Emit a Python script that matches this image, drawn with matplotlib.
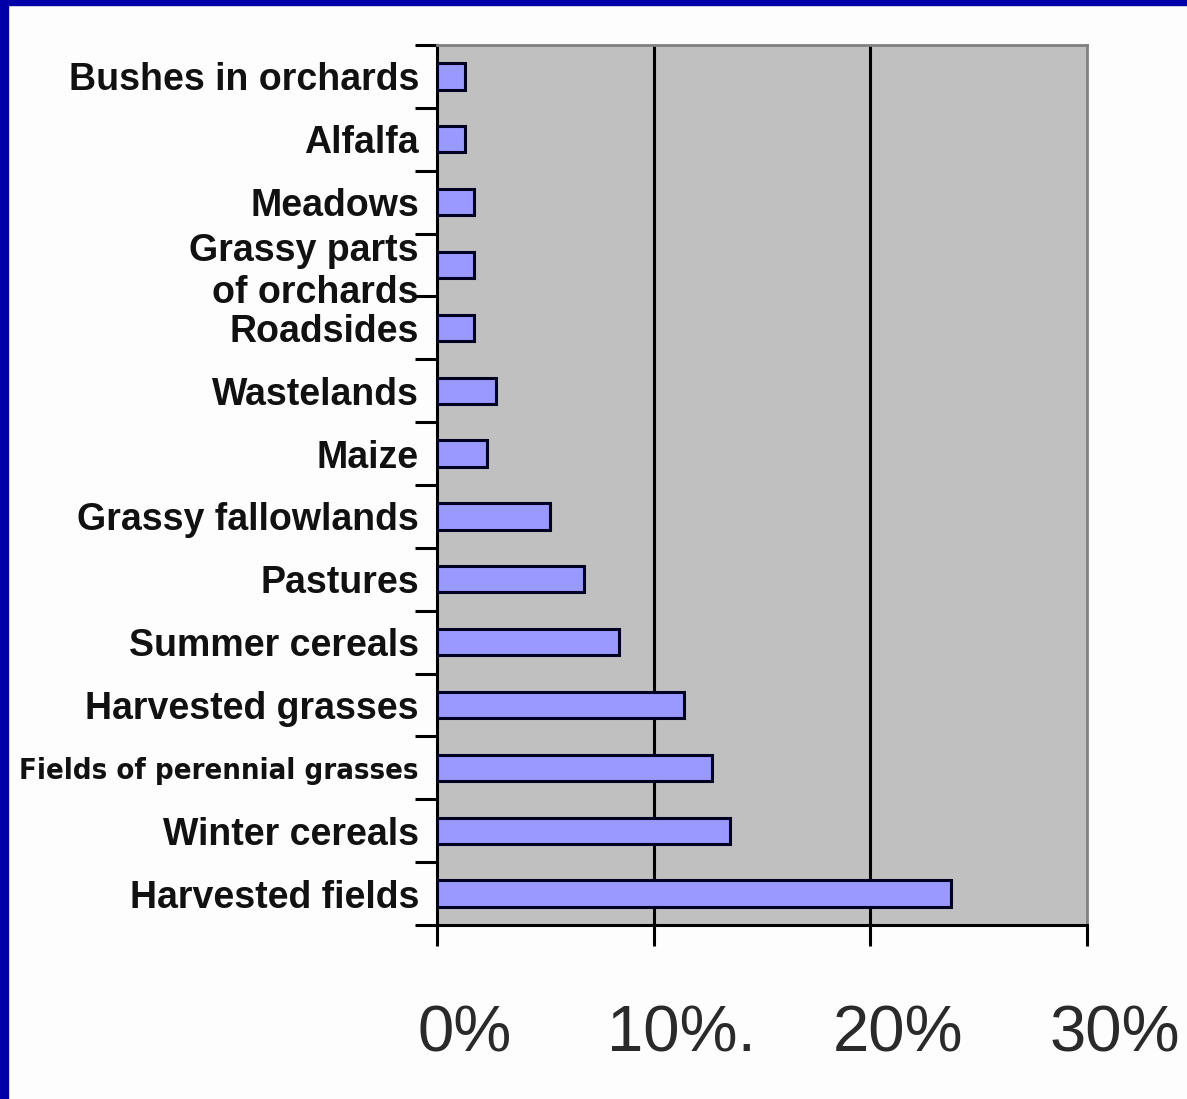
import matplotlib
matplotlib.use("Agg")
import matplotlib.pyplot as plt
import matplotlib.transforms as mtransforms
from matplotlib.patches import Rectangle
from matplotlib.ticker import FixedLocator

# Share of sites per habitat type (%)
habitats = [
    "Bushes in orchards",
    "Alfalfa",
    "Meadows",
    "Grassy parts\nof orchards",
    "Roadsides",
    "Wastelands",
    "Maize",
    "Grassy fallowlands",
    "Pastures",
    "Summer cereals",
    "Harvested grasses",
    "Fields of perennial grasses",
    "Winter cereals",
    "Harvested fields",
]
shares = [1.3, 1.3, 1.7, 1.7, 1.7, 2.7, 2.3, 5.2, 6.8, 8.4, 11.4, 12.7, 13.5, 23.7]
x_ticks = [0, 10, 20, 30]
x_tick_labels = ["0%", "10%.", "20%", "30%"]

W, H = 1187, 1099
fig = plt.figure(figsize=(W / 100, H / 100), dpi=100)
fig.patch.set_facecolor("#fdfdfd")

# Slide frame along the left and top edges
frame = "#0000a8"
fig.patches.append(Rectangle((0, 0), 8 / W, 1, transform=fig.transFigure,
                             color=frame, zorder=0))
fig.patches.append(Rectangle((0, 1 - 5 / H), 1, 5 / H, transform=fig.transFigure,
                             color=frame, zorder=0))

ax = fig.add_axes([437 / W, 1 - 925 / H, (1087 - 437) / W, (925 - 45) / H])
ax.set_facecolor("#c0c0c0")

ypos = list(range(len(habitats)))
ax.barh(ypos, shares, height=0.42, color="#9999ff", edgecolor="#000022",
        linewidth=2.2, zorder=3)

ax.set_xlim(0, 30)
ax.set_ylim(len(habitats) - 0.5, -0.5)

# Vertical gridlines at the inner x ticks
for xv in x_ticks[1:-1]:
    ax.axvline(xv, color="black", linewidth=2.2, zorder=2)

# Category labels on the y axis, boundary ticks between categories
ax.yaxis.set_major_locator(FixedLocator(ypos))
ax.set_yticklabels(habitats)
ax.yaxis.set_minor_locator(FixedLocator([k - 0.5 for k in range(len(habitats) + 1)]))
ax.tick_params(axis="y", which="major", length=0, pad=13)
ax.tick_params(axis="y", which="minor", length=16, width=2.2, color="black")
for lab in ax.get_yticklabels():
    lab.set_fontfamily(["Liberation Sans", "DejaVu Sans"])
    lab.set_fontweight("bold")
    lab.set_fontsize(27)
    lab.set_color("#111111")
    lab.set_linespacing(1.2)
    if lab.get_text().startswith("Fields"):
        lab.set_fontsize(21)
        lab.set_fontfamily(["DejaVu Sans"])
        lab.set_fontstretch("condensed")

# Percentage labels on the x axis
ax.set_xticks(x_ticks)
ax.set_xticklabels(x_tick_labels)
ax.tick_params(axis="x", length=15, width=2.2, color="black", pad=42)
shift = mtransforms.ScaledTranslation(28 / 100, 0, fig.dpi_scale_trans)
for lab in ax.get_xticklabels():
    lab.set_fontfamily(["Liberation Sans", "DejaVu Sans"])
    lab.set_fontsize(47)
    lab.set_color("#2a2a2a")
    lab.set_transform(lab.get_transform() + shift)

for side in ("left", "bottom"):
    ax.spines[side].set_color("black")
    ax.spines[side].set_linewidth(2.2)
for side in ("top", "right"):
    ax.spines[side].set_color("#808080")
    ax.spines[side].set_linewidth(2.0)

fig.savefig("out.png", dpi=100, facecolor=fig.get_facecolor())
